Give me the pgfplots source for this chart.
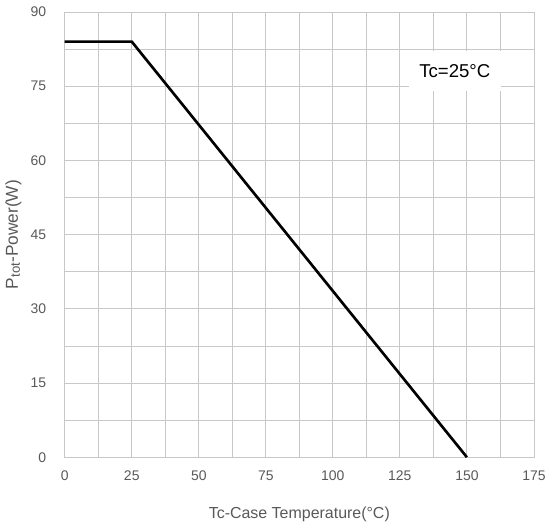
\documentclass[border=0pt]{standalone}
\usepackage{fontspec}
\setmainfont{Liberation Sans}
\usepackage{pgfplots}
\pgfplotsset{compat=1.18}
\definecolor{gridgray}{RGB}{200,200,200}
\definecolor{ticktext}{RGB}{89,89,89}
\begin{document}
\begin{tikzpicture}
\begin{axis}[
  name=ax,
  scale only axis,
  width=353pt, height=335pt,
  xmin=0, xmax=175, ymin=0, ymax=90,
  xtick={0,25,...,175},
  ytick={0,15,...,90},
  minor xtick={12.5,37.5,...,162.5},
  minor ytick={7.5,22.5,...,82.5},
  grid=both,
  major grid style={gridgray, line width=0.6pt},
  minor grid style={gridgray, line width=0.6pt},
  axis line style={gridgray, line width=0.6pt},
  tick style={draw=none},
  tick label style={font=\fontsize{10.5}{12}\selectfont, text=ticktext},
  /pgf/number format/assume math mode=true,
  xticklabel style={yshift=-7pt},
  yticklabel style={xshift=-10.5pt},
  xlabel={Tc-Case Temperature(°C)},
  ylabel={P{\fontsize{10}{11}\selectfont\raisebox{-1.5pt}{tot}}-Power(W)},
  xlabel style={font=\fontsize{12}{14}\selectfont, text=ticktext, yshift=-12.5pt},
  ylabel style={font=\fontsize{13}{15}\selectfont, text=ticktext, yshift=0pt},
  clip=false,
]
\addplot[black, line width=2pt] coordinates {(0,84) (25,84) (150,0)};
\node[fill=white, inner xsep=8pt, inner ysep=10pt, font=\fontsize{14}{16}\selectfont]
  at (axis cs:145.5,78) {Tc=25°C};
\end{axis}
\path ([xshift=-48.7pt,yshift=-54.7pt]ax.south west) ([xshift=10.5pt,yshift=9pt]ax.north east);
\end{tikzpicture}
\end{document}
